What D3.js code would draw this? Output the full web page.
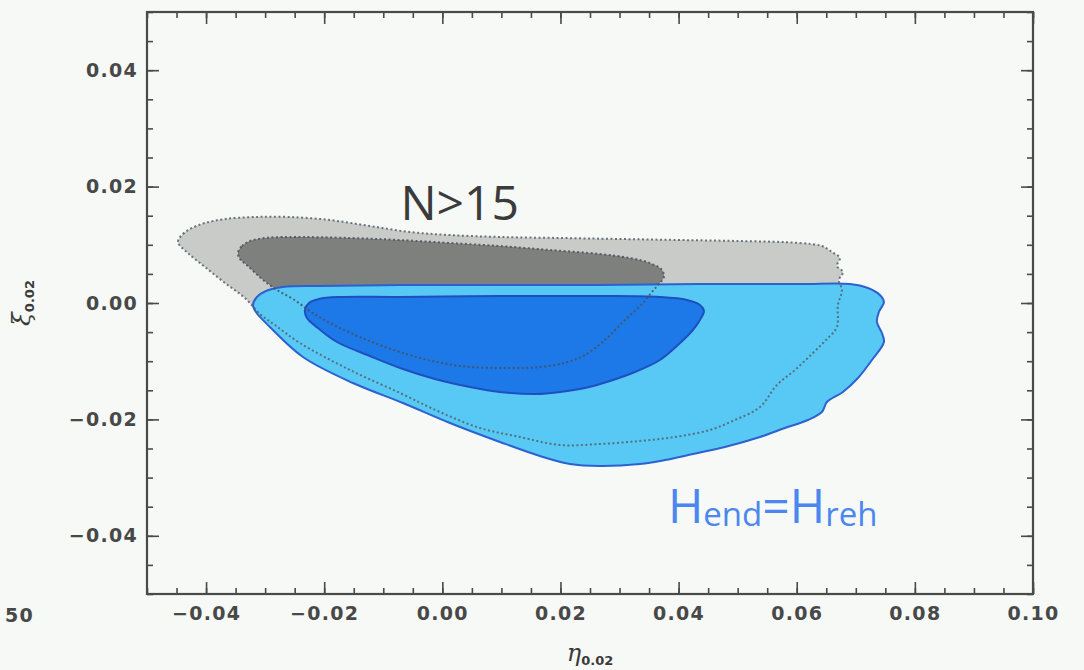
<!DOCTYPE html>
<html>
<head>
<meta charset="utf-8">
<script src="https://cdn.jsdelivr.net/npm/d3@7"></script>
<style>
  html, body { margin: 0; padding: 0; background: #f6f9f5; }
  svg { display: block; }
</style>
</head>
<body>
<svg id="chart" width="1084" height="670"></svg>
<script>
// Axis extents and tick labels
const etaDomain = [-0.05, 0.10];
const xiDomain = [-0.05, 0.05];
const etaMajorTicks = [-0.04, -0.02, 0.00, 0.02, 0.04, 0.06, 0.08, 0.10];
const xiMajorTicks = [-0.04, -0.02, 0.00, 0.02, 0.04];
const minorStep = 0.005;

// Confidence contours, points are [eta_0.02, xi_0.02]
// N > 15 : 95% region
const nAbove15Outer = [
  [-0.04476, 0.01048], [-0.04391, 0.01186], [-0.04239, 0.01289], [-0.04019, 0.01375],
  [-0.03680, 0.01443], [-0.03172, 0.01478], [-0.02580, 0.01478], [-0.01903, 0.01426],
  [-0.01226, 0.01323], [-0.00549, 0.01220], [0.00129, 0.01168], [0.00975, 0.01134],
  [0.01991, 0.01117], [0.03007, 0.01100], [0.04022, 0.01082], [0.05038, 0.01065],
  [0.06054, 0.01031], [0.06426, 0.00979], [0.06596, 0.00876], [0.06731, 0.00773],
  [0.06680, 0.00636], [0.06782, 0.00533], [0.06714, 0.00395], [0.06765, 0.00223],
  [0.06697, -0.00034], [0.06680, -0.00412], [0.06494, -0.00636], [0.06274, -0.00859],
  [0.05969, -0.01151], [0.05664, -0.01409], [0.05377, -0.01787], [0.04953, -0.02010],
  [0.04530, -0.02182], [0.03938, -0.02302], [0.03345, -0.02371], [0.02668, -0.02423],
  [0.01991, -0.02440], [0.01314, -0.02302], [0.00637, -0.02148], [-0.00041, -0.01873],
  [-0.00718, -0.01546], [-0.01564, -0.01151], [-0.02411, -0.00687], [-0.02834, -0.00378],
  [-0.03088, -0.00189], [-0.03342, 0.00086], [-0.03680, 0.00344], [-0.04019, 0.00619],
  [-0.04307, 0.00859]
];
// N > 15 : 68% region
const nAbove15Inner = [
  [-0.03460, 0.00859], [-0.03393, 0.00979], [-0.03257, 0.01065], [-0.03003, 0.01117],
  [-0.02580, 0.01134], [-0.01564, 0.01117], [-0.00718, 0.01082], [0.00129, 0.01031],
  [0.00975, 0.00979], [0.01822, 0.00911], [0.02668, 0.00842], [0.03176, 0.00773],
  [0.03514, 0.00687], [0.03718, 0.00567], [0.03751, 0.00447], [0.03650, 0.00309],
  [0.03548, 0.00189], [0.03396, 0.00000], [0.03091, -0.00292], [0.02753, -0.00636],
  [0.02414, -0.00893], [0.02126, -0.01014], [0.01652, -0.01100], [0.01026, -0.01117],
  [0.00298, -0.01082], [-0.00379, -0.00945], [-0.01056, -0.00722], [-0.01734, -0.00430],
  [-0.02191, -0.00172], [-0.02529, 0.00069], [-0.02800, 0.00223], [-0.03054, 0.00412],
  [-0.03291, 0.00636], [-0.03426, 0.00756]
];
// H_end = H_reh : 95% region
const hEqualOuter = [
  [-0.03206, -0.00034], [-0.03139, 0.00103], [-0.02986, 0.00206], [-0.02698, 0.00275],
  [-0.02072, 0.00292], [-0.00718, 0.00309], [0.00975, 0.00309], [0.02668, 0.00309],
  [0.04361, 0.00326], [0.06054, 0.00326], [0.06900, 0.00326], [0.07205, 0.00258],
  [0.07408, 0.00137], [0.07476, 0.00017], [0.07391, -0.00155], [0.07357, -0.00326],
  [0.07442, -0.00515], [0.07476, -0.00670], [0.07273, -0.00979], [0.07036, -0.01289],
  [0.06782, -0.01529], [0.06511, -0.01701], [0.06426, -0.01873], [0.06189, -0.02010],
  [0.05800, -0.02148], [0.05377, -0.02302], [0.04784, -0.02474], [0.04242, -0.02595],
  [0.03768, -0.02698], [0.03345, -0.02766], [0.02668, -0.02801], [0.02160, -0.02766],
  [0.01652, -0.02629], [0.00975, -0.02388], [0.00129, -0.02062], [-0.00667, -0.01718],
  [-0.01513, -0.01375], [-0.02360, -0.00928], [-0.02919, -0.00412], [-0.03156, -0.00155]
];
// H_end = H_reh : 68% region
const hEqualInner = [
  [-0.02326, -0.00120], [-0.02258, 0.00000], [-0.02089, 0.00069], [-0.01734, 0.00103],
  [-0.00718, 0.00103], [0.00975, 0.00120], [0.02668, 0.00120], [0.03684, 0.00103],
  [0.04141, 0.00052], [0.04361, -0.00034], [0.04429, -0.00137], [0.04361, -0.00292],
  [0.04242, -0.00464], [0.03988, -0.00722], [0.03684, -0.00979], [0.03261, -0.01186],
  [0.02837, -0.01340], [0.02414, -0.01460], [0.01991, -0.01529], [0.01601, -0.01564],
  [0.00975, -0.01529], [0.00467, -0.01443], [-0.00125, -0.01306], [-0.00667, -0.01134],
  [-0.01226, -0.00911], [-0.01784, -0.00670], [-0.02106, -0.00430], [-0.02292, -0.00258]
];

// Layout
const plot = { left: 147, right: 1033, top: 12, bottom: 594 };
const svg = d3.select("#chart");
svg.append("rect").attr("width", 1084).attr("height", 670).attr("fill", "#f6f9f5");

const x = d3.scaleLinear().domain(etaDomain).range([plot.left, plot.right]);
const y = d3.scaleLinear().domain(xiDomain).range([plot.bottom, plot.top]);

const line = d3.line()
  .x(d => x(d[0]))
  .y(d => y(d[1]))
  .curve(d3.curveCatmullRomClosed.alpha(0.5));

const g = svg.append("g");

// Filled regions
g.append("path").attr("d", line(nAbove15Outer)).attr("fill", "#c9cbc8");
g.append("path").attr("d", line(nAbove15Inner)).attr("fill", "#7e807d");
g.append("path").attr("d", line(hEqualOuter)).attr("fill", "#58c9f4");
g.append("path").attr("d", line(hEqualInner)).attr("fill", "#1d79e7");

// Solid outlines of the H_end = H_reh regions
g.append("path").attr("d", line(hEqualOuter))
  .attr("fill", "none").attr("stroke", "#2c62cf").attr("stroke-width", 2);
g.append("path").attr("d", line(hEqualInner))
  .attr("fill", "none").attr("stroke", "#1f4fbf").attr("stroke-width", 2);

// Dotted outlines of the N > 15 regions
g.append("path").attr("d", line(nAbove15Outer))
  .attr("fill", "none").attr("stroke", "#55606c").attr("stroke-width", 2)
  .attr("stroke-dasharray", "2,2.5").attr("stroke-opacity", 0.85);
g.append("path").attr("d", line(nAbove15Inner))
  .attr("fill", "none").attr("stroke", "#46505e").attr("stroke-width", 2)
  .attr("stroke-dasharray", "2,2.5").attr("stroke-opacity", 0.85);

// Axes: inward ticks on all four sides
const fmt = d3.format(".2f");
const etaMinor = d3.range(etaDomain[0], etaDomain[1] + 1e-9, minorStep);
const xiMinor = d3.range(xiDomain[0], xiDomain[1] + 1e-9, minorStep);

function styleAxis(sel) {
  sel.select(".domain").remove();
  sel.selectAll("line").attr("stroke", "#4a4a4a").attr("stroke-width", 1.6);
  sel.selectAll("text")
    .attr("font-family", "DejaVu Sans, sans-serif")
    .attr("font-weight", "bold")
    .attr("font-size", 19)
    .attr("letter-spacing", 1.3)
    .attr("fill", "#484848");
}

// bottom
svg.append("g").attr("transform", `translate(0,${plot.bottom})`)
  .call(d3.axisBottom(x).tickValues(etaMinor).tickSize(-6).tickFormat(""))
  .call(styleAxis);
svg.append("g").attr("transform", `translate(0,${plot.bottom})`)
  .call(d3.axisBottom(x).tickValues(etaMajorTicks).tickSize(-12).tickPadding(13).tickFormat(fmt))
  .call(styleAxis);
// top
svg.append("g").attr("transform", `translate(0,${plot.top})`)
  .call(d3.axisTop(x).tickValues(etaMinor).tickSize(-6).tickFormat(""))
  .call(styleAxis);
svg.append("g").attr("transform", `translate(0,${plot.top})`)
  .call(d3.axisTop(x).tickValues(etaMajorTicks).tickSize(-12).tickFormat(""))
  .call(styleAxis);
// left
svg.append("g").attr("transform", `translate(${plot.left},0)`)
  .call(d3.axisLeft(y).tickValues(xiMinor).tickSize(-6).tickFormat(""))
  .call(styleAxis);
svg.append("g").attr("transform", `translate(${plot.left},0)`)
  .call(d3.axisLeft(y).tickValues(xiMajorTicks).tickSize(-12).tickPadding(9).tickFormat(fmt))
  .call(styleAxis);
// right
svg.append("g").attr("transform", `translate(${plot.right},0)`)
  .call(d3.axisRight(y).tickValues(xiMinor).tickSize(-6).tickFormat(""))
  .call(styleAxis);
svg.append("g").attr("transform", `translate(${plot.right},0)`)
  .call(d3.axisRight(y).tickValues(xiMajorTicks).tickSize(-12).tickFormat(""))
  .call(styleAxis);

// Frame
svg.append("rect")
  .attr("x", plot.left).attr("y", plot.top)
  .attr("width", plot.right - plot.left).attr("height", plot.bottom - plot.top)
  .attr("fill", "none").attr("stroke", "#4a4a4a").attr("stroke-width", 2.2);

// Axis titles
const xTitle = svg.append("text")
  .attr("x", (plot.left + plot.right) / 2).attr("y", 661)
  .attr("text-anchor", "middle")
  .attr("font-family", "DejaVu Serif, serif").attr("fill", "#3a3a3a");
xTitle.append("tspan").attr("font-size", 24).attr("font-style", "italic").text("η");
xTitle.append("tspan").attr("font-size", 13).attr("font-weight", "bold")
  .attr("font-family", "DejaVu Sans, sans-serif").attr("dy", 4).text("0.02");

const yTitle = svg.append("text")
  .attr("transform", `translate(30,${(plot.top + plot.bottom) / 2}) rotate(-90)`)
  .attr("text-anchor", "middle")
  .attr("font-family", "DejaVu Serif, serif").attr("fill", "#3a3a3a");
yTitle.append("tspan").attr("font-size", 25).attr("font-style", "italic").text("ξ");
yTitle.append("tspan").attr("font-size", 13).attr("font-weight", "bold")
  .attr("font-family", "DejaVu Sans, sans-serif").attr("dy", 4).text("0.02");

// Fragment of a neighbouring panel's tick label at the left edge
svg.append("text")
  .attr("x", 5).attr("y", 622)
  .attr("font-family", "DejaVu Sans, sans-serif").attr("font-weight", "bold")
  .attr("font-size", 19).attr("letter-spacing", 1.3).attr("fill", "#484848")
  .text("50");

// Region labels
svg.append("text")
  .attr("x", x(-0.0071)).attr("y", 220)
  .attr("font-family", "Open Sans, sans-serif").attr("font-size", 48)
  .attr("fill", "#3b3b3b")
  .text("N>15");

const hLabel = svg.append("text")
  .attr("x", x(0.0382)).attr("y", 523)
  .attr("font-family", "Open Sans, sans-serif").attr("fill", "#4b87ee");
hLabel.append("tspan").attr("font-size", 48).text("H");
hLabel.append("tspan").attr("font-size", 33).attr("dy", 3).text("end");
hLabel.append("tspan").attr("font-size", 48).attr("dy", -3).text("=H");
hLabel.append("tspan").attr("font-size", 33).attr("dy", 3).text("reh");
</script>
</body>
</html>
